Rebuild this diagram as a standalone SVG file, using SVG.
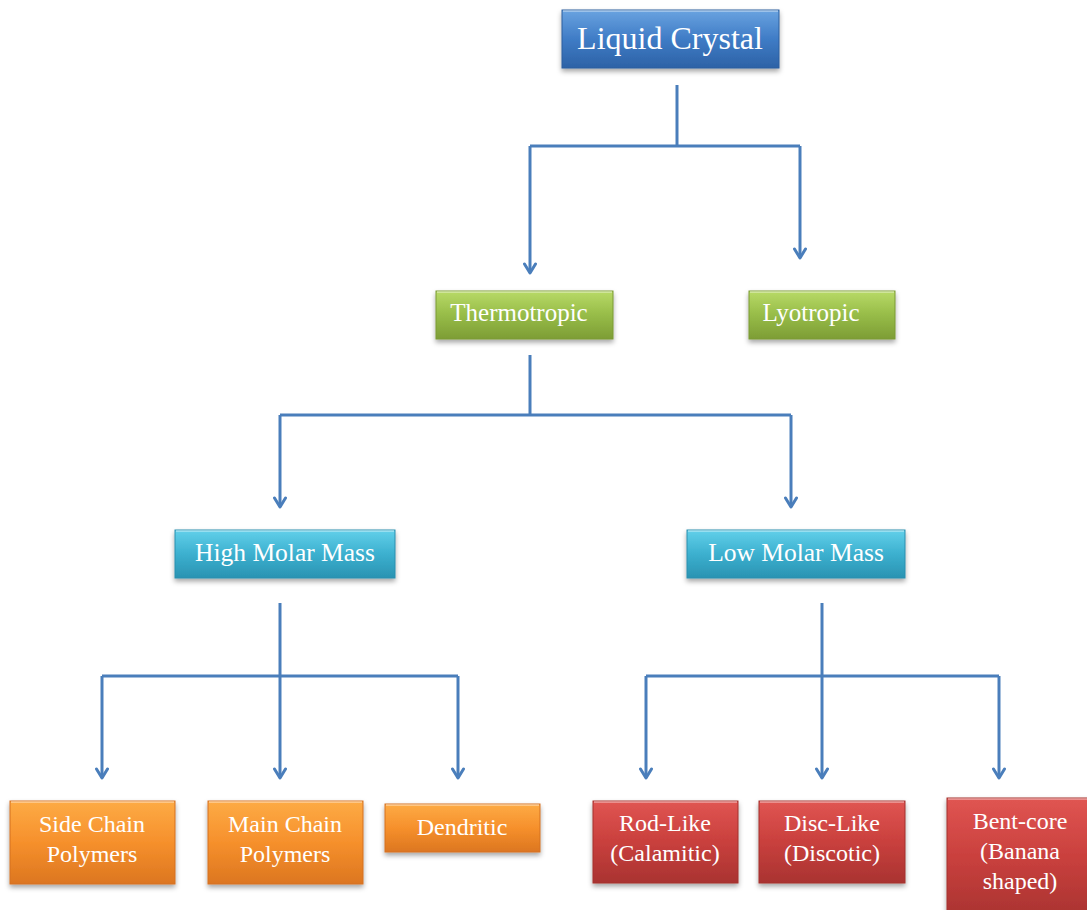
<svg xmlns="http://www.w3.org/2000/svg" width="1087" height="910" viewBox="0 0 1087 910">
<defs>
<linearGradient id="gBlue" x1="0" y1="0" x2="0" y2="1"><stop offset="0" stop-color="#6aa3e0"/><stop offset="0.5" stop-color="#3f7cc6"/><stop offset="1" stop-color="#2d62a6"/></linearGradient>
<linearGradient id="gGreen" x1="0" y1="0" x2="0" y2="1"><stop offset="0" stop-color="#b8da67"/><stop offset="0.5" stop-color="#97bc48"/><stop offset="1" stop-color="#7d9d35"/></linearGradient>
<linearGradient id="gCyan" x1="0" y1="0" x2="0" y2="1"><stop offset="0" stop-color="#62d0ea"/><stop offset="0.5" stop-color="#3cb0cf"/><stop offset="1" stop-color="#2a93b2"/></linearGradient>
<linearGradient id="gOrange" x1="0" y1="0" x2="0" y2="1"><stop offset="0" stop-color="#fdab45"/><stop offset="0.5" stop-color="#f6902c"/><stop offset="1" stop-color="#dc7620"/></linearGradient>
<linearGradient id="gRed" x1="0" y1="0" x2="0" y2="1"><stop offset="0" stop-color="#e05552"/><stop offset="0.5" stop-color="#c9403d"/><stop offset="1" stop-color="#a93331"/></linearGradient>
<filter id="sh" x="-10%" y="-10%" width="120%" height="140%"><feDropShadow dx="0" dy="3" stdDeviation="2.5" flood-color="#000" flood-opacity="0.35"/></filter>
<marker id="arr" viewBox="0 0 14 14" refX="11" refY="7" markerWidth="14" markerHeight="14" markerUnits="userSpaceOnUse" orient="auto"><path d="M2,1.5 L11,7 L2,12.5" fill="none" stroke="#4a7ebb" stroke-width="3" stroke-linecap="round" stroke-linejoin="round"/></marker>
</defs>
<style>
.box{filter:url(#sh);stroke-width:1}
.bl{fill:url(#gBlue);stroke:#2d5f9e}
.gr{fill:url(#gGreen);stroke:#7a9a34}
.cy{fill:url(#gCyan);stroke:#2a8fae}
.or{fill:url(#gOrange);stroke:#d47020}
.rd{fill:url(#gRed);stroke:#a3302e}
.hi{fill:none;stroke:#ffffff;stroke-opacity:0.35;stroke-width:2}
text{font-family:"Liberation Serif","Times New Roman",serif;fill:#ffffff;text-anchor:middle}
.ln{fill:none;stroke:#4a7ebb;stroke-width:3}
</style>
<g id="connectors">
<path class="ln" d="M677,85 V146"/>
<path class="ln" d="M530,146 H800"/>
<path class="ln" d="M530,146 V273" marker-end="url(#arr)"/>
<path class="ln" d="M800,146 V258" marker-end="url(#arr)"/>
<path class="ln" d="M530,355 V415"/>
<path class="ln" d="M280,415 H791"/>
<path class="ln" d="M280,415 V507" marker-end="url(#arr)"/>
<path class="ln" d="M791,415 V507" marker-end="url(#arr)"/>
<path class="ln" d="M280,603 V778" marker-end="url(#arr)"/>
<path class="ln" d="M102,676 H458"/>
<path class="ln" d="M102,676 V778" marker-end="url(#arr)"/>
<path class="ln" d="M458,676 V778" marker-end="url(#arr)"/>
<path class="ln" d="M822,603 V778" marker-end="url(#arr)"/>
<path class="ln" d="M646,676 H999"/>
<path class="ln" d="M646,676 V778" marker-end="url(#arr)"/>
<path class="ln" d="M999,676 V778" marker-end="url(#arr)"/>
</g>
<g id="n-liquid-crystal">
<rect class="box bl" x="562" y="10" width="217" height="58"/>
<path class="hi" d="M563,11 H778"/>
<text x="670" y="49" font-size="32">Liquid Crystal</text>
</g>
<g id="n-thermotropic">
<rect class="box gr" x="436" y="291" width="177" height="48"/>
<path class="hi" d="M437,292 H612"/>
<text x="519" y="321" font-size="25">Thermotropic</text>
</g>
<g id="n-lyotropic">
<rect class="box gr" x="749" y="291" width="146" height="48"/>
<path class="hi" d="M750,292 H894"/>
<text x="811" y="321" font-size="25">Lyotropic</text>
</g>
<g id="n-high-molar-mass">
<rect class="box cy" x="175" y="530" width="220" height="48"/>
<path class="hi" d="M176,531 H394"/>
<text x="285" y="561" font-size="25.5">High Molar Mass</text>
</g>
<g id="n-low-molar-mass">
<rect class="box cy" x="687" y="530" width="218" height="48"/>
<path class="hi" d="M688,531 H904"/>
<text x="796" y="561" font-size="25.5">Low Molar Mass</text>
</g>
<g id="n-side-chain">
<rect class="box or" x="10" y="801" width="165" height="83"/>
<path class="hi" d="M11,802 H174"/>
<text x="92" y="832" font-size="24">Side Chain</text>
<text x="92" y="862" font-size="24">Polymers</text>
</g>
<g id="n-main-chain">
<rect class="box or" x="208" y="801" width="155" height="83"/>
<path class="hi" d="M209,802 H362"/>
<text x="285" y="832" font-size="24">Main Chain</text>
<text x="285" y="862" font-size="24">Polymers</text>
</g>
<g id="n-dendritic">
<rect class="box or" x="385" y="804" width="155" height="48"/>
<path class="hi" d="M386,805 H539"/>
<text x="462" y="835" font-size="24">Dendritic</text>
</g>
<g id="n-rod-like">
<rect class="box rd" x="593" y="801" width="145" height="82"/>
<path class="hi" d="M594,802 H737"/>
<text x="665" y="831" font-size="24">Rod-Like</text>
<text x="665" y="861" font-size="24">(Calamitic)</text>
</g>
<g id="n-disc-like">
<rect class="box rd" x="759" y="801" width="146" height="82"/>
<path class="hi" d="M760,802 H904"/>
<text x="832" y="831" font-size="24">Disc-Like</text>
<text x="832" y="861" font-size="24">(Discotic)</text>
</g>
<g id="n-bent-core">
<rect class="box rd" x="947" y="798" width="145" height="120"/>
<path class="hi" d="M948,799 H1087"/>
<text x="1020" y="829" font-size="24">Bent-core</text>
<text x="1020" y="859" font-size="24">(Banana</text>
<text x="1020" y="889" font-size="24">shaped)</text>
</g>
</svg>
